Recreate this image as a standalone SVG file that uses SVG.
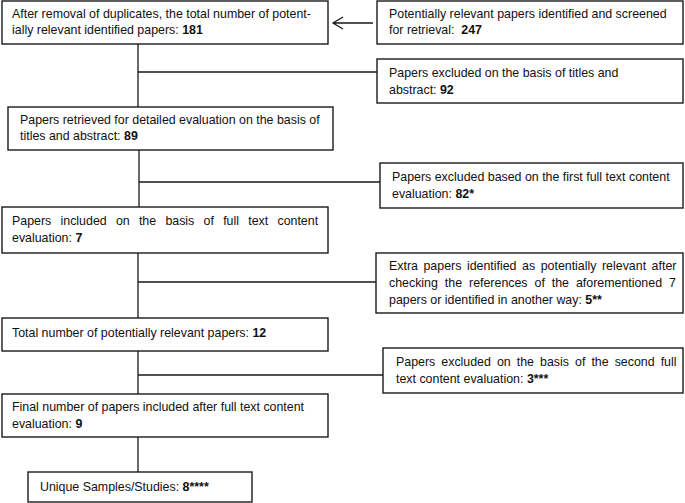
<svg xmlns="http://www.w3.org/2000/svg" width="685" height="503" viewBox="0 0 685 503">
<style>
.box{fill:#fff;stroke:#1a1a1a;stroke-width:1.4}
.ln{fill:none;stroke:#1a1a1a;stroke-width:1.3}
text{font-family:"Liberation Sans",Arial,sans-serif;font-size:12.4px;fill:#111}
.b{font-weight:bold}
</style>
<rect width="685" height="503" fill="#fff"/>
<g id="connectors">
<path class="ln" d="M138 44V107M138 72H377M139 150V207M139 182H380M138 253V318M138 282H376M138 351V394M138 375H383M138 437V472"/>
<path class="ln" d="M373 23H333M343 17L333 23L343 29"/>
</g>
<g id="n1"><rect class="box" x="2" y="1" width="326" height="43"/>
<text x="12" y="18">After removal of duplicates, the total number of potent-</text>
<text x="12" y="34">ially relevant identified papers: <tspan class="b">181</tspan></text></g>
<g id="n2"><rect class="box" x="377" y="1" width="306" height="43"/>
<text x="389" y="18">Potentially relevant papers identified and screened</text>
<text x="389" y="34">for retrieval: <tspan class="b" dx="3.4">247</tspan></text></g>
<g id="n3"><rect class="box" x="377" y="59" width="306" height="44"/>
<text x="389" y="77">Papers excluded on the basis of titles and</text>
<text x="389" y="94">abstract: <tspan class="b">92</tspan></text></g>
<g id="n4"><rect class="box" x="8" y="107" width="325" height="43"/>
<text x="20" y="124">Papers retrieved for detailed evaluation on the basis of</text>
<text x="20" y="140">titles and abstract: <tspan class="b">89</tspan></text></g>
<g id="n5"><rect class="box" x="380" y="163" width="303" height="45"/>
<text x="392" y="181">Papers excluded based on the first full text content</text>
<text x="392" y="198">evaluation: <tspan class="b">82*</tspan></text></g>
<g id="n6"><rect class="box" x="2" y="207" width="326" height="46"/>
<text x="12" y="225" word-spacing="5.8">Papers included on the basis of full text content</text>
<text x="12" y="242">evaluation: <tspan class="b">7</tspan></text></g>
<g id="n7"><rect class="box" x="376" y="253" width="307" height="60"/>
<text x="389" y="270" word-spacing="2.1">Extra papers identified as potentially relevant after</text>
<text x="389" y="287" word-spacing="3.5">checking the references of the aforementioned 7</text>
<text x="389" y="304">papers or identified in another way: <tspan class="b">5**</tspan></text></g>
<g id="n8"><rect class="box" x="2" y="318" width="326" height="33"/>
<text x="12" y="337">Total number of potentially relevant papers: <tspan class="b">12</tspan></text></g>
<g id="n9"><rect class="box" x="383" y="348" width="300" height="45"/>
<text x="396" y="366" word-spacing="2.6">Papers excluded on the basis of the second full</text>
<text x="396" y="383">text content evaluation: <tspan class="b">3***</tspan></text></g>
<g id="n10"><rect class="box" x="2" y="394" width="326" height="43"/>
<text x="12" y="411">Final number of papers included after full text content</text>
<text x="12" y="428">evaluation: <tspan class="b">9</tspan></text></g>
<g id="n11"><rect class="box" x="28" y="472" width="224" height="30"/>
<text x="40" y="491">Unique Samples/Studies: <tspan class="b">8****</tspan></text></g>
</svg>
